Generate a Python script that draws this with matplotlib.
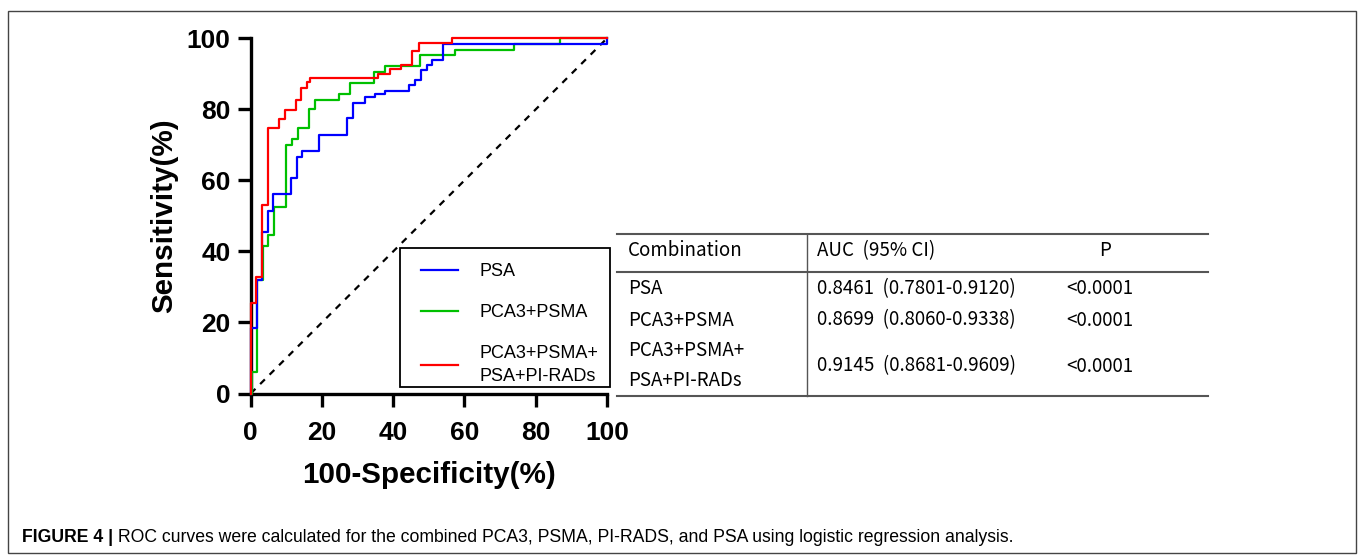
import matplotlib
matplotlib.use("Agg")
import matplotlib.pyplot as plt
from matplotlib.lines import Line2D
from matplotlib.patches import Rectangle

# ROC curve corner points (100-specificity, sensitivity)
psa_x = [0, 0, 1.7, 3.3, 4.9, 6.3, 11.2, 12.9, 14.3, 19.2, 27.1, 28.6, 32.1, 35.0, 37.7,
         44.5, 46.0, 47.7, 49.5, 50.8, 53.9, 100]
psa_y = [0, 18.4, 32.0, 45.4, 51.5, 56.2, 60.6, 66.7, 68.3, 72.8, 77.5, 81.7, 83.4, 84.3, 85.2,
         86.9, 88.2, 91.1, 92.4, 93.9, 98.5, 100]

pca_x = [0, 0.3, 1.7, 3.4, 4.9, 6.6, 9.8, 11.5, 13.2, 16.5, 18.1, 24.8, 27.9, 34.6, 37.7,
         47.6, 57.4, 73.8, 86.9, 100]
pca_y = [0, 6.1, 32.0, 41.4, 44.6, 52.6, 70.0, 71.6, 74.7, 80.0, 82.6, 84.2, 87.4, 90.6, 92.2,
         95.3, 96.8, 98.5, 100, 100]

comb_x = [0, 0, 1.5, 3.1, 4.8, 8.0, 9.6, 12.6, 14.2, 15.8, 16.7, 35.8, 39.1, 42.3, 45.4,
          47.1, 56.5, 100]
comb_y = [0, 25.4, 32.9, 53.1, 74.7, 77.3, 79.9, 82.6, 86.1, 87.7, 88.7, 89.9, 91.3, 92.5, 96.3,
          98.8, 100, 100]

ticks = [0, 20, 40, 60, 80, 100]

# table contents
tbl_header = ["Combination", "AUC  (95% CI)", "P"]
tbl_names = ["PSA", "PCA3+PSMA", "PCA3+PSMA+\nPSA+PI-RADs"]
tbl_auc = ["0.8461  (0.7801-0.9120)", "0.8699  (0.8060-0.9338)", "0.9145  (0.8681-0.9609)"]
tbl_p = ["<0.0001", "<0.0001", "<0.0001"]

W, H = 1358, 555
fig = plt.figure(figsize=(W / 100, H / 100), dpi=100)

def fx(px):
    return px / W

def fy(py):
    return 1 - py / H

ax = fig.add_axes([fx(250.7), fy(393.5), (607 - 250.7) / W, (393.5 - 38.3) / H])

ax.plot(psa_x, psa_y, drawstyle="steps-post", color="#0000FF", lw=1.6, label="PSA", clip_on=False, zorder=4)
ax.plot(pca_x, pca_y, drawstyle="steps-post", color="#00C000", lw=1.6, label="PCA3+PSMA", clip_on=False, zorder=3)
ax.plot(comb_x, comb_y, drawstyle="steps-post", color="#FF0000", lw=1.6, label="PCA3+PSMA+\nPSA+PI-RADs",
        clip_on=False, zorder=5)
ax.plot([0, 100], [0, 100], ls=(0, (3, 3)), color="black", lw=1.6, zorder=2)

ax.set_xlim(0, 100)
ax.set_ylim(0, 100)
ax.set_xticks(ticks)
ax.set_yticks(ticks)
for s in ["top", "right"]:
    ax.spines[s].set_visible(False)
for s in ["left", "bottom"]:
    ax.spines[s].set_linewidth(2.4)
ax.tick_params(width=2.4, length=9.5)
ax.tick_params(axis="x", pad=10)
ax.tick_params(axis="y", pad=5)
for lab in ax.get_xticklabels() + ax.get_yticklabels():
    lab.set_fontfamily("Liberation Sans")
    lab.set_fontweight("bold")
    lab.set_fontsize(19)
ax.set_xlabel("100-Specificity(%)", fontsize=21.3, fontweight="bold", family="Liberation Sans", labelpad=12)
ax.set_ylabel("Sensitivity(%)", fontsize=21.3, fontweight="bold", family="Liberation Sans", labelpad=6)

# legend: entries placed by matplotlib, frame drawn as a separate box
leg = ax.legend(loc="upper left", bbox_to_anchor=(fx(421), fy(263)), bbox_transform=fig.transFigure,
                borderaxespad=0, frameon=False, borderpad=0,
                prop={"family": "Liberation Sans", "size": 13}, handlelength=2.05, handletextpad=1.2,
                labelspacing=1.32)
leg.get_texts()[2].set_linespacing(1.5)
fig.add_artist(Rectangle((fx(400), fy(386.5)), fx(610) - fx(400), fy(248) - fy(386.5), fill=False,
                         edgecolor="black", lw=1.3, zorder=6))

# table
tf = ["Noto Sans CJK SC", "DejaVu Sans"]
tsz = 13.5
lc = "#555555"
for y in [234, 272, 396]:
    fig.add_artist(Line2D([fx(617), fx(1208)], [fy(y), fy(y)], color=lc, lw=1.5))
fig.add_artist(Line2D([fx(807), fx(807)], [fy(234), fy(396)], color=lc, lw=1.0))

fig.text(fx(628), fy(251), tbl_header[0], family=tf, fontsize=tsz, va="center")
fig.text(fx(817), fy(251), tbl_header[1], family=tf, fontsize=tsz, va="center")
fig.text(fx(1105), fy(251), tbl_header[2], family=tf, fontsize=tsz, va="center", ha="center")
row_y = [289, 320, 366]
for i in range(3):
    if "\n" in tbl_names[i]:
        a, b = tbl_names[i].split("\n")
        fig.text(fx(628), fy(351), a, family=tf, fontsize=tsz, va="center")
        fig.text(fx(628), fy(381), b, family=tf, fontsize=tsz, va="center")
    else:
        fig.text(fx(628), fy(row_y[i]), tbl_names[i], family=tf, fontsize=tsz, va="center")
    fig.text(fx(817), fy(row_y[i]), tbl_auc[i], family=tf, fontsize=tsz, va="center")
    fig.text(fx(1066), fy(row_y[i]), tbl_p[i], family=tf, fontsize=tsz, va="center")

# outer frame and caption
fig.add_artist(Rectangle((fx(8), fy(553)), fx(1356) - fx(8), fy(11) - fy(553), fill=False,
                         edgecolor="#444444", lw=1.0))
cf = ["Liberation Sans"]
t1 = fig.text(fx(22), fy(537), "FIGURE 4 |", family=cf, fontsize=12.7, fontweight="bold", va="center")
fig.canvas.draw()
bb = t1.get_window_extent()
fig.text(bb.x1 / W, fy(537),
         " ROC curves were calculated for the combined PCA3, PSMA, PI-RADS, and PSA using logistic regression analysis.",
         family=cf, fontsize=12.7, va="center")

fig.savefig("out.png", dpi=100)
